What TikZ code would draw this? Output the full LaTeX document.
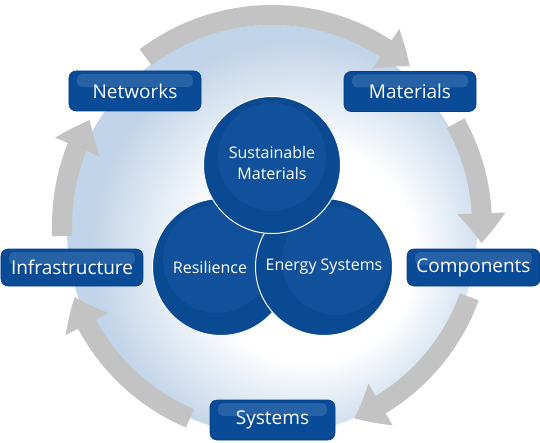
\documentclass[tikz,border=0pt]{standalone}
\usepackage{fontspec}
\setmainfont{Open Sans}
\usetikzlibrary{arrows.meta,bending}
\definecolor{boxblue}{HTML}{0A4B97}
\definecolor{boxedge}{HTML}{073F82}
\definecolor{boxhi}{HTML}{2862A6}
\definecolor{hubblue}{HTML}{0A4A92}
\definecolor{hubhi}{HTML}{11519C}
\definecolor{ringgray}{HTML}{C3C3C3}
\definecolor{spherebl}{HTML}{C2D4E9}
\pgfdeclareradialshading{spheresh}{\pgfpoint{6bp}{-4bp}}{color(0bp)=(white); color(13bp)=(white); color(25bp)=(spherebl); color(50bp)=(spherebl)}

\begin{document}
\begin{tikzpicture}[x=1pt,y=1pt,
  stage/.style={rounded corners=7pt, fill=boxblue, draw=boxedge, line width=0.6pt,
    text=white, font=\fontsize{19}{21}\selectfont, minimum height=40pt, inner sep=0pt,
    path picture={\fill[boxhi, rounded corners=5pt]
      ([xshift=8pt,yshift=-3pt]path picture bounding box.north west) rectangle
      ([xshift=-8pt,yshift=-16pt]path picture bounding box.north east);}},
  hub/.style={circle, fill=hubblue, draw=white, line width=1pt, minimum size=137pt, inner sep=0pt,
    path picture={\fill[hubhi] ([shift={(#1)}]path picture bounding box.center) circle (54pt);}},
  hub/.default={0,8},
  hubtext/.style={text=white, font=\fontsize{16}{21}\selectfont, align=center},
  ring/.style={ringgray, line width=20pt, -{Triangle[width=46pt,length=30pt,bend]}}]
\useasboundingbox (-272,-217) rectangle (268,225);

\shade[shading=spheresh] (0,-5) circle (205);

% cycle round the boxes
\coordinate (net-out) at (127:210);
\coordinate (mat-out) at (29:210);
\coordinate (com-out) at (-20:210);
\coordinate (sys-out) at (247:210);
\coordinate (inf-out) at (183:210);
\draw[ring] (net-out) arc[start angle=127, end angle=49, radius=210];
\draw[ring] (mat-out) arc[start angle=29, end angle=-5, radius=210];
\draw[ring] (com-out) arc[start angle=-20, end angle=-67, radius=210];
\draw[ring] (sys-out) arc[start angle=247, end angle=200, radius=210];
\draw[ring] (inf-out) arc[start angle=183, end angle=150, radius=210];

\node[stage, minimum width=132pt] (networks) at (-137,134) {Networks};
\node[stage, minimum width=132pt] (materials) at (138,133.5) {Materials};
\node[stage, minimum width=142pt, minimum height=37pt] (infra) at (-200,-42.5) {Infrastructure};
\node[stage, minimum width=133pt, minimum height=37pt] (components) at (201.5,-42.5) {Components};
\node[stage, minimum width=125pt] (systems) at (0.5,-195) {Systems};

% the three themes
\node[hub={-4,8}] (resilience) at (-51,-42) {};
\node[hub={12,6}] (energy) at (52,-42) {};
\node[hub] (sustainable) at (0,60) {};
\node[hubtext] at ([xshift=-11pt]resilience.center) {Resilience};
\node[hubtext] at (energy) {Energy Systems};
\node[hubtext] at ([yshift=2pt]sustainable.center) {Sustainable\\Materials};
\end{tikzpicture}
\end{document}
